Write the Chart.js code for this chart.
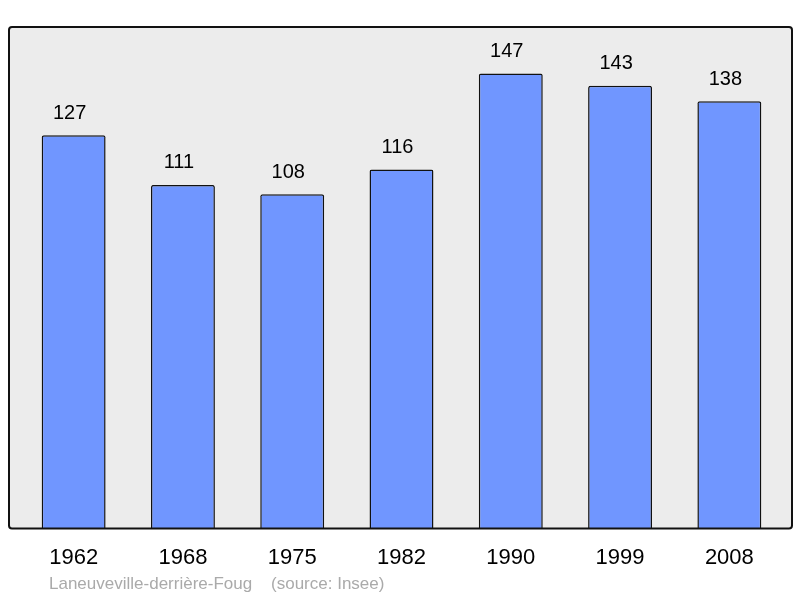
<!DOCTYPE html>
<html>
<head>
<meta charset="utf-8">
<script src="https://cdn.jsdelivr.net/npm/chart.js@4/dist/chart.umd.min.js"></script>
<style>
  html, body { margin: 0; padding: 0; background: #fff; }
  #wrap { width: 800px; height: 598px; }
</style>
</head>
<body>
<div id="wrap"><canvas id="popChart" width="800" height="598"></canvas></div>
<script>
// données
const years = ['1962', '1968', '1975', '1982', '1990', '1999', '2008'];
const population = [127, 111, 108, 116, 147, 143, 138];
const yMax = 162;
const footText = 'Laneuveville-derrière-Foug    (source: Insee)';

// fond gris encadré + valeurs au-dessus des barres
const boxPlugin = {
    id: 'box',
    beforeDatasetsDraw(chart) {
        const { ctx, chartArea: a } = chart;
        const x0 = a.left - 10, x1 = a.right + 8, y0 = a.top, y1 = a.bottom;
        ctx.save();
        ctx.beginPath();
        ctx.roundRect(x0, y0, x1 - x0, y1 - y0, 3);
        ctx.fillStyle = '#ececec';
        ctx.fill();
        ctx.restore();
    },
    afterDatasetsDraw(chart) {
        const { ctx, chartArea: a } = chart;
        const x0 = a.left - 10, x1 = a.right + 8, y0 = a.top, y1 = a.bottom;
        ctx.save();
        ctx.beginPath();
        ctx.roundRect(x0, y0, x1 - x0, y1 - y0, 3);
        ctx.lineWidth = 2;
        ctx.strokeStyle = '#111';
        ctx.stroke();

        ctx.fillStyle = '#000';
        ctx.font = '20px "Liberation Sans", Arial, sans-serif';
        ctx.textAlign = 'center';
        ctx.textBaseline = 'middle';
        chart.getDatasetMeta(0).data.forEach((bar, i) => {
            ctx.fillText(population[i], bar.x - 4, bar.y - 22);
        });

        ctx.fillStyle = '#aaaaaa';
        ctx.font = '17px "Liberation Sans", Arial, sans-serif';
        ctx.textAlign = 'left';
        ctx.fillText(footText, 49, 584);
        ctx.restore();
    }
};

new Chart(document.getElementById('popChart'), {
    type: 'bar',
    data: {
        labels: years,
        datasets: [{
            data: population,
            backgroundColor: '#7096ff',
            borderColor: '#111',
            borderWidth: 1.5,
            borderSkipped: 'bottom',
            borderRadius: { topLeft: 2, topRight: 2 },
            categoryPercentage: 1,
            barPercentage: 0.585
        }]
    },
    options: {
        responsive: false,
        animation: false,
        layout: { padding: { left: 19, right: 16, top: 27, bottom: 19 } },
        plugins: { legend: { display: false }, tooltip: { enabled: false } },
        scales: {
            x: {
                grid: { display: false },
                border: { display: false },
                ticks: {
                    color: '#000',
                    padding: 8,
                    font: { family: '"Liberation Sans", Arial, sans-serif', size: 22 }
                }
            },
            y: {
                display: false,
                min: 0,
                max: yMax
            }
        }
    },
    plugins: [boxPlugin]
});
</script>
</body>
</html>
